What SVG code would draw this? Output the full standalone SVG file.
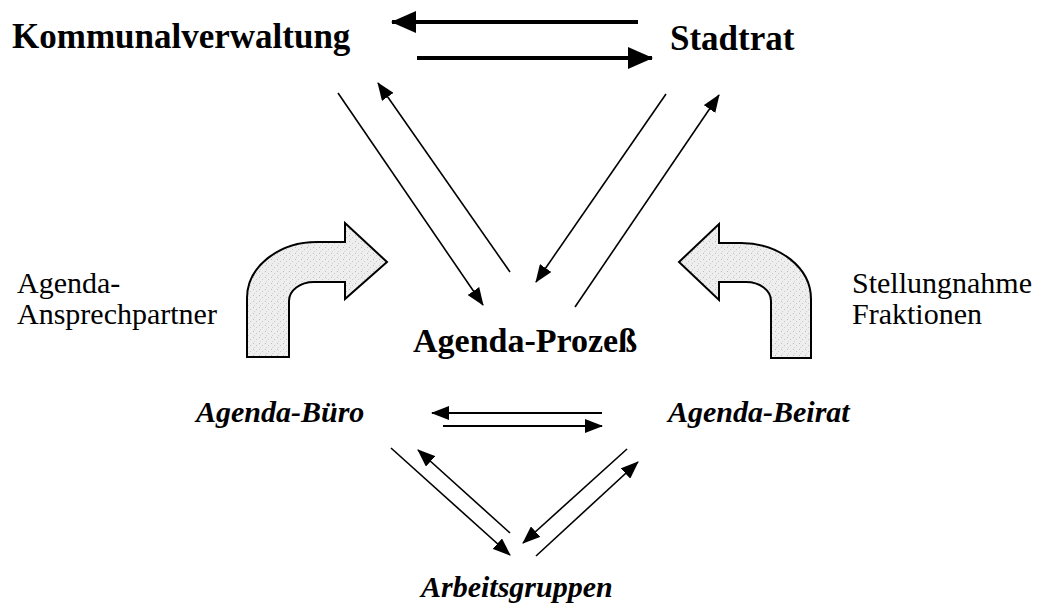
<svg xmlns="http://www.w3.org/2000/svg" width="1037" height="606" viewBox="0 0 1037 606">
<style>
.b{font-family:"Liberation Serif","Times New Roman",serif;font-weight:bold;font-size:35px;fill:#000}
.bi{font-family:"Liberation Serif","Times New Roman",serif;font-weight:bold;font-style:italic;font-size:30px;fill:#000}
.r{font-family:"Liberation Serif","Times New Roman",serif;font-size:30px;fill:#000}
.thin{stroke:#000;stroke-width:1.6;fill:none;marker-end:url(#ah)}
.mid{stroke:#000;stroke-width:2;fill:none;marker-end:url(#ah)}
.thick{stroke:#000;stroke-width:4;fill:none;marker-end:url(#ahb)}
.bend{fill:url(#stipple);stroke:#000;stroke-width:2;stroke-linejoin:miter}
</style>
<defs>
<pattern id="stipple" patternUnits="userSpaceOnUse" width="6" height="6">
<rect width="6" height="6" fill="#eeeeee"/>
<rect x="1" y="1" width="1" height="1" fill="#bcbcbc"/>
<rect x="4" y="3" width="1" height="1" fill="#c8c8c8"/>
<rect x="2" y="5" width="1" height="1" fill="#d0d0d0"/>
</pattern>
<marker id="ah" markerUnits="userSpaceOnUse" markerWidth="18" markerHeight="14" refX="17" refY="7" orient="auto" viewBox="0 0 18 14">
<path d="M0,0 L18,7 L0,14 Z" fill="#000"/>
</marker>
<marker id="ahb" markerUnits="userSpaceOnUse" markerWidth="25" markerHeight="22" refX="24" refY="11" orient="auto" viewBox="0 0 25 22">
<path d="M0,0 L25,11 L0,22 Z" fill="#000"/>
</marker>
</defs>
<rect width="1037" height="606" fill="#fff"/>

<g id="connectors">
<line class="thick" x1="638" y1="22" x2="392" y2="22"/>
<line class="thick" x1="417" y1="58" x2="652" y2="58"/>
<line class="thin" x1="338" y1="93" x2="483" y2="305"/>
<line class="thin" x1="510" y1="272" x2="378" y2="83"/>
<line class="thin" x1="666" y1="94" x2="536" y2="282"/>
<line class="thin" x1="575" y1="307" x2="719" y2="95"/>
<line class="mid" x1="602" y1="413" x2="432" y2="413"/>
<line class="mid" x1="443" y1="426" x2="602" y2="426"/>
<line class="thin" x1="391" y1="448" x2="510" y2="555"/>
<line class="thin" x1="510" y1="533" x2="418" y2="450"/>
<line class="thin" x1="627" y1="449" x2="523" y2="543"/>
<line class="thin" x1="536" y1="556" x2="638" y2="462"/>
</g>

<g id="bend-left">
<path class="bend" d="M247,357 L247,298 A70,56 0 0 1 317,242 L345,242 L345,223 L387,262 L345,299 L345,282 L314,282 A25,19 0 0 0 289,301 L289,357 Z"/>
</g>
<g id="bend-right">
<path class="bend" d="M811,358 L811,299 A70,56 0 0 0 741,243 L719,243 L719,224 L679,262 L719,300 L719,282 L746,282 A25,19 0 0 1 771,301 L771,358 Z"/>
</g>

<g id="kommunalverwaltung"><text class="b" x="12" y="48">Kommunalverwaltung</text></g>
<g id="stadtrat"><text class="b" x="670" y="50">Stadtrat</text></g>
<g id="agenda-prozess"><text class="b" x="413" y="352" style="font-size:34px">Agenda-Prozeß</text></g>
<g id="agenda-buero"><text class="bi" x="196" y="422">Agenda-Büro</text></g>
<g id="agenda-beirat"><text class="bi" x="668" y="422">Agenda-Beirat</text></g>
<g id="arbeitsgruppen"><text class="bi" x="421" y="597">Arbeitsgruppen</text></g>
<g id="ansprechpartner"><text class="r" x="17" y="293">Agenda-</text><text class="r" x="17" y="324">Ansprechpartner</text></g>
<g id="fraktionen"><text class="r" x="852" y="293">Stellungnahme</text><text class="r" x="852" y="324">Fraktionen</text></g>
</svg>
